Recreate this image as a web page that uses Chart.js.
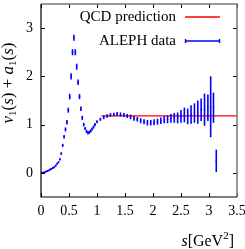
<!DOCTYPE html>
<html><head><meta charset="utf-8">
<script src="https://cdn.jsdelivr.net/npm/chart.js@4/dist/chart.umd.min.js"></script>
<style>html,body{margin:0;padding:0;background:#fff}#wrap{width:245px;height:249px;position:relative}</style>
</head><body><div id="wrap"><canvas id="c" width="245" height="249"></canvas></div>
<script>
// ---- data ----
const sValues = [
  0.0125,0.0375,0.0625,0.0875,0.1125,0.1375,0.1625,0.1875,0.2125,0.2375,
  0.2625,0.2875,0.3125,0.3375,0.3625,0.3875,0.4125,0.4375,0.4625,0.4875,
  0.5125,0.5375,0.5625,0.5875,0.6125,0.6375,0.6625,0.6875,0.7125,0.7375,
  0.7625,0.7875,0.8125,0.8375,0.8625,0.8875,0.9125,0.9375,0.9625,
  1.00,1.06,1.12,1.18,1.24,1.30,1.36,1.42,1.48,1.54,
  1.60,1.66,1.72,1.78,1.84,1.90,1.96,2.02,2.08,2.14,
  2.20,2.26,2.32,2.38,2.44,2.50,2.56,2.62,2.68,2.74,
  2.80,2.86,2.92,2.98,3.03,3.08,3.13
];
const alephValues = [
  0.00,0.005,0.01,0.025,0.04,0.05,0.07,0.085,0.10,0.12,
  0.15,0.19,0.22,0.28,0.40,0.57,0.75,0.90,1.05,1.30,
  1.58,2.00,2.50,2.80,2.50,2.20,1.88,1.58,1.33,1.14,
  1.00,0.92,0.86,0.83,0.84,0.87,0.91,0.95,1.00,
  1.06,1.11,1.15,1.18,1.20,1.21,1.22,1.21,1.20,1.18,
  1.16,1.13,1.11,1.08,1.06,1.04,1.04,1.05,1.06,1.08,
  1.10,1.11,1.13,1.14,1.14,1.17,1.20,1.17,1.21,1.24,
  1.26,1.31,1.31,1.35,1.37,1.35,0.25
];
const alephErrors = [
  0.005,0.005,0.005,0.005,0.005,0.005,0.006,0.006,0.007,0.008,
  0.008,0.01,0.01,0.012,0.015,0.02,0.025,0.03,0.035,0.04,
  0.045,0.05,0.05,0.05,0.05,0.05,0.045,0.04,0.035,0.03,
  0.025,0.02,0.02,0.02,0.02,0.02,0.02,0.02,0.02,
  0.02,0.02,0.025,0.025,0.025,0.025,0.03,0.03,0.03,0.03,
  0.035,0.035,0.035,0.04,0.04,0.045,0.045,0.05,0.05,0.055,
  0.06,0.07,0.08,0.09,0.10,0.12,0.14,0.15,0.18,0.19,
  0.23,0.22,0.32,0.26,0.62,0.30,0.22
];
const qcdS = [1.08, 3.5];
const qcdValues = [1.18, 1.18];
const xTicks = [0, 0.5, 1, 1.5, 2, 2.5, 3, 3.5];
const yTicks = [0, 1, 2, 3];
const legendLabels = ['QCD prediction', 'ALEPH data'];

const SERIF = '"Liberation Serif", "Times New Roman", serif';
const BLUE = 'rgb(0,0,255)';
const RED = 'rgb(255,0,0)';

function drawRich(ctx, segs, x, y, align) {
  let w = 0;
  segs.forEach(s => { ctx.font = (s.it ? 'italic ' : '') + s.size + 'px ' + SERIF; w += ctx.measureText(s.t).width; });
  let cx = align === 'center' ? x - w / 2 : (align === 'right' ? x - w : x);
  ctx.textAlign = 'left';
  ctx.textBaseline = 'alphabetic';
  segs.forEach(s => {
    ctx.font = (s.it ? 'italic ' : '') + s.size + 'px ' + SERIF;
    ctx.fillText(s.t, cx, y + (s.dy || 0));
    cx += ctx.measureText(s.t).width;
  });
}

const errorBars = {
  id: 'errorBars',
  afterDatasetsDraw(chart) {
    const ctx = chart.ctx, xs = chart.scales.x, ys = chart.scales.y;
    ctx.save();
    ctx.beginPath();
    ctx.rect(chart.chartArea.left, chart.chartArea.top, chart.chartArea.right - chart.chartArea.left, chart.chartArea.bottom - chart.chartArea.top);
    ctx.clip();
    ctx.strokeStyle = BLUE;
    ctx.lineWidth = 1.6;
    sValues.forEach((s, i) => {
      const px = xs.getPixelForValue(s);
      const y1 = ys.getPixelForValue(alephValues[i] - alephErrors[i]);
      const y2 = ys.getPixelForValue(alephValues[i] + alephErrors[i]);
      ctx.beginPath();
      ctx.moveTo(px, Math.max(y1, y2) + 0.6);
      ctx.lineTo(px, Math.min(y1, y2) - 0.6);
      ctx.stroke();
    });
    ctx.restore();
  }
};

const frameAndText = {
  id: 'frameAndText',
  afterDraw(chart) {
    const ctx = chart.ctx, a = chart.chartArea, xs = chart.scales.x, ys = chart.scales.y;
    ctx.save();
    // inward ticks
    ctx.strokeStyle = '#000';
    ctx.lineWidth = 1;
    const tl = 4;
    xTicks.forEach(v => {
      const px = Math.round(xs.getPixelForValue(v)) + 0.5;
      ctx.beginPath();
      ctx.moveTo(px, a.bottom); ctx.lineTo(px, a.bottom - tl);
      ctx.moveTo(px, a.top); ctx.lineTo(px, a.top + tl);
      ctx.stroke();
    });
    yTicks.forEach(v => {
      const py = Math.round(ys.getPixelForValue(v)) + 0.5;
      ctx.beginPath();
      ctx.moveTo(a.left, py); ctx.lineTo(a.left + tl, py);
      ctx.moveTo(a.right, py); ctx.lineTo(a.right - tl, py);
      ctx.stroke();
    });
    // frame
    ctx.strokeStyle = '#7a7a7a';
    ctx.lineWidth = 1.5;
    ctx.beginPath();
    ctx.moveTo(a.left, a.top); ctx.lineTo(a.right, a.top); ctx.lineTo(a.right, a.bottom);
    ctx.stroke();
    ctx.strokeStyle = '#000';
    ctx.lineWidth = 1.2;
    ctx.beginPath();
    ctx.moveTo(a.left, a.top); ctx.lineTo(a.left, a.bottom); ctx.lineTo(a.right, a.bottom);
    ctx.stroke();

    // legend samples
    ctx.lineWidth = 1.4;
    ctx.strokeStyle = RED;
    ctx.beginPath(); ctx.moveTo(185, 17); ctx.lineTo(220, 17); ctx.stroke();
    ctx.strokeStyle = BLUE;
    ctx.beginPath(); ctx.moveTo(185, 41); ctx.lineTo(220, 41); ctx.stroke();
    ctx.beginPath(); ctx.moveTo(185.5, 39); ctx.lineTo(185.5, 43); ctx.stroke();
    ctx.beginPath(); ctx.moveTo(219.5, 39); ctx.lineTo(219.5, 43); ctx.stroke();

    // legend text
    ctx.fillStyle = '#000';
    ctx.font = '15px ' + SERIF;
    ctx.textAlign = 'right';
    ctx.textBaseline = 'middle';
    ctx.fillText(legendLabels[0], 176, 17);
    ctx.fillText(legendLabels[1], 176, 41);

    // x axis title
    drawRich(ctx, [
      {t:'s', it:true, size:16},
      {t:'[GeV', size:16},
      {t:'2', size:11, dy:-7},
      {t:']', size:16}
    ], 234, 246, 'right');

    // y axis title
    ctx.save();
    ctx.translate(13, 83);
    ctx.rotate(-Math.PI / 2);
    drawRich(ctx, [
      {t:'v', it:true, size:17},
      {t:'1', size:11, dy:3},
      {t:'(', size:17},
      {t:'s', it:true, size:17},
      {t:') + ', size:17},
      {t:'a', it:true, size:17},
      {t:'1', size:11, dy:3},
      {t:'(', size:17},
      {t:'s', it:true, size:17},
      {t:')', size:17}
    ], 0, 0, 'center');
    ctx.restore();
    ctx.restore();
  }
};

const alephPoints = sValues.map((s, i) => ({x: s, y: alephValues[i]}));
const qcdPoints = qcdS.map((s, i) => ({x: s, y: qcdValues[i]}));

function noEdgePad(sc) { sc.paddingLeft = 0; sc.paddingRight = 0; sc.paddingTop = 0; sc.paddingBottom = 0; }

new Chart(document.getElementById('c'), {
  type: 'scatter',
  data: {
    datasets: [
      { label: legendLabels[0], data: qcdPoints, showLine: true, borderColor: RED, borderWidth: 1.3, pointRadius: 0, order: 2 },
      { label: legendLabels[1], data: alephPoints, showLine: false, backgroundColor: BLUE, borderColor: BLUE, pointRadius: 0.8, borderWidth: 0, order: 1 }
    ]
  },
  options: {
    responsive: false,
    devicePixelRatio: 1,
    animation: false,
    events: [],
    layout: { padding: { top: 3, right: 8, left: 0, bottom: 0 } },
    plugins: { legend: { display: false }, tooltip: { enabled: false } },
    scales: {
      x: {
        type: 'linear', min: 0, max: 3.5,
        afterBuildTicks: sc => { sc.ticks = xTicks.map(v => ({value: v})); },
        afterFit: sc => { sc.height = 52; noEdgePad(sc); },
        grid: { display: false, drawTicks: false },
        border: { display: false },
        ticks: { padding: 6, color: '#000', font: { family: SERIF, size: 14 }, maxRotation: 0, autoSkip: false, callback: v => String(v) }
      },
      y: {
        type: 'linear', min: -0.5, max: 3.5,
        afterBuildTicks: sc => { sc.ticks = yTicks.map(v => ({value: v})); },
        afterFit: sc => { sc.width = 41; noEdgePad(sc); },
        grid: { display: false, drawTicks: false },
        border: { display: false },
        ticks: { padding: 8, color: '#000', font: { family: SERIF, size: 14 }, autoSkip: false, callback: v => String(v) }
      }
    }
  },
  plugins: [errorBars, frameAndText]
});
</script>
</body></html>
